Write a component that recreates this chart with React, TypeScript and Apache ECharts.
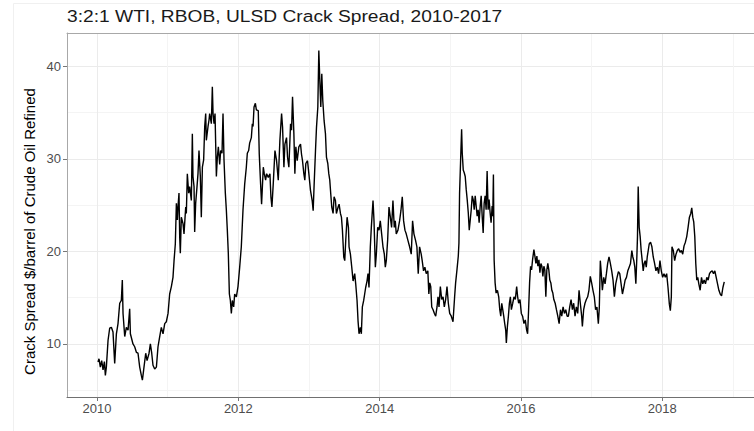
import React, { useEffect, useRef } from "react";
import * as echarts from "echarts";

const chartTitle = "3:2:1 WTI, RBOB, ULSD Crack Spread, 2010-2017";
const yAxisTitle = "Crack Spread $/barrel of Crude Oil Refined";
const xTickYears = [2010, 2012, 2014, 2016, 2018];
const yTickValues = [10, 20, 30, 40];

// decimal year of each observation
const years2010to2012 = [
  2010.014, 2010.028, 2010.047, 2010.066, 2010.085, 2010.104, 2010.118, 2010.132, 2010.156, 2010.179,
  2010.203, 2010.226, 2010.25, 2010.274, 2010.297, 2010.321, 2010.344, 2010.358, 2010.368, 2010.392,
  2010.415, 2010.439, 2010.462, 2010.472, 2010.509, 2010.533, 2010.557, 2010.58, 2010.604, 2010.627,
  2010.642, 2010.66, 2010.689, 2010.708, 2010.736, 2010.755, 2010.774, 2010.792, 2010.816, 2010.84,
  2010.863, 2010.887, 2010.91, 2010.934, 2010.958, 2010.981, 2011.005, 2011.028, 2011.052, 2011.075,
  2011.09, 2011.108, 2011.123, 2011.137, 2011.146, 2011.16, 2011.17, 2011.179, 2011.193, 2011.217,
  2011.231, 2011.255, 2011.264, 2011.278, 2011.297, 2011.311, 2011.335, 2011.349, 2011.358, 2011.373,
  2011.382, 2011.396, 2011.415, 2011.429, 2011.443, 2011.462, 2011.476, 2011.491, 2011.509, 2011.524,
  2011.538, 2011.547, 2011.571, 2011.585, 2011.594, 2011.618, 2011.632, 2011.642, 2011.656, 2011.67,
  2011.689, 2011.703, 2011.717, 2011.736, 2011.75, 2011.769, 2011.783, 2011.797, 2011.816, 2011.83,
  2011.844, 2011.858, 2011.873, 2011.887, 2011.901, 2011.915, 2011.934, 2011.948, 2011.972, 2011.995,
  2012.019, 2012.042, 2012.066, 2012.09, 2012.113, 2012.127, 2012.146, 2012.16, 2012.184, 2012.198,
  2012.208, 2012.222, 2012.241, 2012.255,
];
const spread2010to2012 = [
  8.05, 8.4, 7.5, 8.2, 7.2, 8.1, 6.6, 7.5, 10.4, 11.7,
  11.8, 11.3, 7.9, 11.1, 12.2, 14.4, 14.7, 16.9, 13.3, 10.8,
  11.8, 11.5, 13.8, 11.1, 10.0, 9.7, 9.1, 9.0, 7.5, 6.6,
  6.1, 7.2, 9.0, 8.2, 9.0, 10.0, 9.0, 7.7, 7.3, 7.5,
  9.7, 10.8, 11.8, 11.1, 12.2, 12.4, 13.3, 15.4, 16.2, 17.2,
  19.0, 20.8, 25.2, 23.4, 24.8, 26.3, 21.6, 19.8, 23.7, 23.0,
  21.9, 24.8, 24.1, 28.4, 26.3, 27.0, 25.5, 32.7, 28.1, 27.0,
  22.1, 25.2, 27.0, 28.4, 30.9, 28.1, 23.7, 29.1, 29.9, 33.5,
  34.9, 32.0, 33.5, 34.2, 34.9, 33.8, 37.8, 34.9, 33.8, 34.9,
  28.1, 30.2, 31.3, 29.4, 30.9, 30.6, 34.9, 29.9, 26.3, 24.5,
  22.3, 19.8, 15.4, 14.7, 13.3, 14.7, 14.0, 15.4, 15.1, 16.2,
  18.3, 20.5, 24.5, 27.3, 29.1, 30.6, 30.9, 31.7, 32.3, 33.8,
  33.5, 35.6, 36.0, 35.3,
];

const years2012to2014 = [
  2012.282, 2012.296, 2012.315, 2012.329, 2012.353, 2012.367, 2012.386, 2012.4, 2012.424, 2012.447,
  2012.461, 2012.475, 2012.494, 2012.518, 2012.541, 2012.565, 2012.588, 2012.612, 2012.626, 2012.645,
  2012.659, 2012.682, 2012.696, 2012.715, 2012.739, 2012.753, 2012.767, 2012.786, 2012.8, 2012.814,
  2012.833, 2012.856, 2012.88, 2012.894, 2012.908, 2012.927, 2012.941, 2012.955, 2012.979, 2012.998,
  2013.021, 2013.045, 2013.059, 2013.073, 2013.092, 2013.106, 2013.125, 2013.139, 2013.153, 2013.167,
  2013.181, 2013.195, 2013.214, 2013.233, 2013.247, 2013.266, 2013.28, 2013.294, 2013.308, 2013.322,
  2013.341, 2013.355, 2013.374, 2013.388, 2013.412, 2013.426, 2013.445, 2013.459, 2013.473, 2013.492,
  2013.506, 2013.52, 2013.539, 2013.558, 2013.567, 2013.586, 2013.605, 2013.624, 2013.647, 2013.661,
  2013.68, 2013.694, 2013.708, 2013.727, 2013.741, 2013.755, 2013.774, 2013.788, 2013.802, 2013.821,
  2013.835, 2013.849, 2013.868, 2013.882, 2013.906, 2013.92, 2013.939, 2013.953, 2013.972, 2013.991,
  2014.009, 2014.028, 2014.047, 2014.066, 2014.08, 2014.094, 2014.113, 2014.132, 2014.151, 2014.169,
  2014.188, 2014.207, 2014.221, 2014.235, 2014.259, 2014.282, 2014.301, 2014.32, 2014.339, 2014.358,
  2014.376, 2014.4, 2014.424, 2014.447, 2014.466, 2014.485, 2014.508, 2014.527, 2014.546, 2014.565,
  2014.588, 2014.602, 2014.621, 2014.64, 2014.659, 2014.682, 2014.696,
];
const spread2012to2014 = [
  35.2, 30.5, 27.3, 25.1, 29.1, 28.4, 27.7, 28.4, 28.0, 28.4,
  25.9, 24.8, 27.3, 30.9, 29.8, 27.7, 32.0, 34.9, 33.4, 29.1,
  31.6, 32.3, 30.2, 29.1, 33.8, 33.1, 36.7, 32.7, 28.4, 31.3,
  29.8, 31.3, 31.6, 30.5, 29.8, 28.4, 27.7, 29.5, 29.8, 28.4,
  26.6, 25.5, 24.4, 27.3, 30.9, 33.4, 35.6, 41.7, 38.5, 35.6,
  39.2, 36.3, 34.1, 32.7, 30.2, 29.5, 28.4, 27.7, 26.2, 24.8,
  24.1, 25.9, 25.5, 24.1, 24.8, 25.1, 24.1, 23.7, 22.3, 19.4,
  19.0, 21.2, 23.7, 22.6, 20.5, 19.7, 18.3, 16.8, 17.6, 16.5,
  14.7, 12.5, 11.1, 11.8, 11.1, 14.0, 14.7, 15.4, 16.1, 16.8,
  17.6, 16.1, 20.5, 22.6, 25.5, 23.3, 18.3, 19.7, 22.6, 22.3,
  23.3, 21.9, 20.5, 19.7, 18.3, 19.0, 21.2, 24.8, 23.7, 22.6,
  25.5, 22.6, 23.3, 21.9, 22.3, 23.3, 24.4, 25.9, 23.3, 22.3,
  21.9, 21.2, 20.5, 19.7, 23.3, 21.9, 21.2, 20.5, 17.6, 20.5,
  19.7, 19.0, 17.9, 18.3, 17.6, 17.9, 15.4,
];

const years2014to2017 = [
  2014.709, 2014.723, 2014.737, 2014.756, 2014.775, 2014.793, 2014.812, 2014.826, 2014.84, 2014.859,
  2014.878, 2014.897, 2014.915, 2014.934, 2014.953, 2014.972, 2014.991, 2015.014, 2015.038, 2015.061,
  2015.075, 2015.094, 2015.113, 2015.122, 2015.131, 2015.146, 2015.16, 2015.169, 2015.183, 2015.197,
  2015.211, 2015.225, 2015.239, 2015.254, 2015.268, 2015.282, 2015.296, 2015.31, 2015.324, 2015.338,
  2015.352, 2015.366, 2015.38, 2015.394, 2015.408, 2015.423, 2015.437, 2015.451, 2015.465, 2015.479,
  2015.493, 2015.507, 2015.521, 2015.535, 2015.549, 2015.563, 2015.577, 2015.592, 2015.601, 2015.61,
  2015.62, 2015.634, 2015.648, 2015.667, 2015.685, 2015.7, 2015.714, 2015.728, 2015.742, 2015.756,
  2015.77, 2015.784, 2015.793, 2015.808, 2015.822, 2015.836, 2015.85, 2015.864, 2015.883, 2015.901,
  2015.92, 2015.939, 2015.953, 2015.967, 2015.986, 2016.005, 2016.023, 2016.042, 2016.061, 2016.08,
  2016.094, 2016.108, 2016.122, 2016.136, 2016.15, 2016.164, 2016.183, 2016.197, 2016.211, 2016.225,
  2016.239, 2016.254, 2016.268, 2016.282, 2016.296, 2016.31, 2016.324, 2016.338, 2016.352, 2016.366,
  2016.38, 2016.394, 2016.408, 2016.423, 2016.437, 2016.451, 2016.465, 2016.484, 2016.502, 2016.521,
  2016.54, 2016.559, 2016.577, 2016.596, 2016.615, 2016.634, 2016.653, 2016.671, 2016.69, 2016.709,
  2016.728, 2016.746, 2016.765, 2016.784, 2016.803, 2016.822, 2016.84, 2016.859, 2016.869, 2016.887,
  2016.906, 2016.925, 2016.944, 2016.962, 2016.981, 2017.0, 2017.019, 2017.038, 2017.056, 2017.075,
];
const spread2014to2017 = [
  16.6, 16.2, 14.0, 13.7, 13.3, 13.0, 14.0, 15.1, 14.0, 16.2,
  14.8, 15.1, 14.0, 14.8, 16.2, 14.4, 13.3, 13.0, 12.4, 15.1,
  16.6, 18.0, 19.5, 20.9, 26.3, 29.9, 33.2, 30.6, 28.8, 28.5,
  28.1, 26.7, 25.6, 24.2, 22.3, 23.4, 24.5, 26.0, 25.6, 24.5,
  26.0, 24.9, 23.8, 24.5, 23.1, 24.9, 26.0, 23.8, 22.0, 25.2,
  26.0, 24.5, 28.7, 24.5, 25.6, 24.2, 23.1, 24.9, 23.8, 28.3,
  19.1, 16.6, 15.5, 15.8, 15.1, 13.7, 13.0, 14.4, 13.7, 13.0,
  12.2, 11.5, 10.1, 11.9, 13.0, 14.4, 15.1, 13.7, 14.4, 15.1,
  14.8, 16.2, 15.1, 14.4, 14.8, 13.3, 13.0, 12.2, 12.6, 11.5,
  11.1, 13.7, 16.6, 18.4, 18.0, 19.1, 20.2, 19.5, 18.7, 19.5,
  18.4, 19.1, 17.7, 18.7, 18.4, 17.3, 18.4, 18.0, 15.1, 18.0,
  18.7, 18.0, 16.9, 16.6, 15.8, 15.5, 14.8, 14.4, 13.7, 13.0,
  12.2, 13.7, 13.0, 14.0, 13.3, 13.7, 13.0, 13.0, 14.0, 14.8,
  13.7, 14.4, 13.0, 14.0, 13.3, 15.8, 14.4, 13.0, 11.9, 13.7,
  14.4, 14.8, 15.1, 15.8, 17.3, 16.6, 15.8, 15.1, 13.7, 14.0,
];

const years2017to2018 = [
  2017.095, 2017.109, 2017.123, 2017.137, 2017.152, 2017.171, 2017.19, 2017.209, 2017.227, 2017.246,
  2017.265, 2017.284, 2017.303, 2017.322, 2017.341, 2017.36, 2017.379, 2017.398, 2017.417, 2017.436,
  2017.455, 2017.474, 2017.493, 2017.512, 2017.531, 2017.55, 2017.569, 2017.583, 2017.597, 2017.611,
  2017.626, 2017.64, 2017.649, 2017.659, 2017.673, 2017.687, 2017.701, 2017.716, 2017.73, 2017.744,
  2017.758, 2017.773, 2017.787, 2017.801, 2017.815, 2017.834, 2017.853, 2017.872, 2017.891, 2017.91,
  2017.929, 2017.948, 2017.967, 2017.986, 2018.005, 2018.024, 2018.043, 2018.062, 2018.081, 2018.1,
  2018.114, 2018.128, 2018.137, 2018.156, 2018.175, 2018.194, 2018.213, 2018.232, 2018.251, 2018.27,
  2018.289, 2018.308, 2018.327, 2018.346, 2018.365, 2018.384, 2018.403, 2018.417, 2018.431, 2018.445,
  2018.46, 2018.474, 2018.488, 2018.502, 2018.517, 2018.536, 2018.555, 2018.573, 2018.592, 2018.611,
  2018.63, 2018.649, 2018.668, 2018.687, 2018.706, 2018.725, 2018.744, 2018.763, 2018.782, 2018.801,
  2018.82, 2018.839, 2018.858, 2018.877,
];
const spread2017to2018 = [
  12.2, 14.0, 19.0, 17.6, 15.8, 17.2, 16.5, 17.6, 18.7, 19.4,
  18.7, 17.9, 16.9, 15.1, 16.5, 17.2, 17.8, 17.6, 16.5, 15.4,
  16.1, 16.9, 17.2, 17.9, 18.3, 18.7, 20.1, 19.4, 19.0, 18.3,
  16.5, 19.4, 21.6, 27.0, 22.6, 21.6, 20.1, 19.0, 17.9, 18.7,
  19.0, 18.3, 19.4, 20.1, 20.8, 21.0, 20.5, 19.4, 18.7, 17.9,
  18.3, 17.6, 19.0, 17.9, 17.2, 17.6, 17.2, 17.6, 16.1, 14.3,
  13.6, 15.1, 20.5, 20.1, 19.0, 19.7, 20.1, 20.3, 19.9, 20.1,
  19.7, 20.6, 21.0, 21.6, 22.6, 23.7, 24.1, 24.7, 23.7, 23.2,
  21.6, 18.7, 16.9, 17.2, 16.5, 15.8, 17.2, 16.5, 16.9, 16.5,
  17.2, 16.9, 17.6, 17.8, 17.9, 17.6, 17.9, 17.2, 16.5, 15.8,
  15.4, 15.2, 16.1, 16.7,
];

const allYears = [...years2010to2012, ...years2012to2014, ...years2014to2017, ...years2017to2018];
const allSpread = [...spread2010to2012, ...spread2012to2014, ...spread2014to2017, ...spread2017to2018];

const X_MIN = 2009.575;
const X_MAX = 2019.298;
const Y_MIN = 4.27;
const Y_MAX = 43.6;

const FONT = "'Liberation Sans', Arial, sans-serif";

export default function App() {
  const ref = useRef<HTMLDivElement>(null);
  useEffect(() => {
    if (!ref.current) return;
    const chart = echarts.init(ref.current, null, { renderer: "svg" });
    const seriesData = allYears.map((y, i) => [y, allSpread[i]]);
    chart.setOption({
      animation: false,
      backgroundColor: "#ffffff",
      textStyle: { fontFamily: FONT },
      grid: { left: 67, right: 0, top: 33, bottom: 34, containLabel: false },
      xAxis: [
        {
          type: "value",
          min: X_MIN,
          max: X_MAX,
          splitNumber: 5,
          axisLine: { show: true, onZero: false, lineStyle: { color: "#707070", width: 1 } },
          axisTick: {
            show: true,
            length: 4,
            customValues: xTickYears,
            lineStyle: { color: "#777777", width: 1 },
          },
          axisLabel: {
            color: "#4d4d4d",
            fontSize: 13,
            fontFamily: FONT,
            margin: 5,
            customValues: xTickYears,
            formatter: (v: number) => String(Math.round(v)),
          },
          splitLine: { show: true, lineStyle: { color: "#ebebeb", width: 1 } },
          minorTick: { show: false, splitNumber: 2 },
          minorSplitLine: { show: true, lineStyle: { color: "#f4f4f4", width: 1 } },
        },
        {
          type: "value",
          position: "top",
          min: X_MIN,
          max: X_MAX,
          axisLine: { show: true, onZero: false, lineStyle: { color: "#a8a8a8", width: 1 } },
          axisTick: { show: false },
          axisLabel: { show: false },
          splitLine: { show: false },
        },
      ],
      yAxis: {
        type: "value",
        min: Y_MIN,
        max: Y_MAX,
        splitNumber: 5,
        axisLine: { show: true, onZero: false, lineStyle: { color: "#a8a8a8", width: 1 } },
        axisTick: {
          show: true,
          length: 4,
          customValues: yTickValues,
          lineStyle: { color: "#777777", width: 1 },
        },
        axisLabel: {
          color: "#4d4d4d",
          fontSize: 13,
          fontFamily: FONT,
          margin: 6,
          customValues: yTickValues,
          formatter: (v: number) => String(Math.round(v)),
        },
        splitLine: { show: true, lineStyle: { color: "#ebebeb", width: 1 } },
        minorTick: { show: false, splitNumber: 2 },
        minorSplitLine: { show: true, lineStyle: { color: "#f4f4f4", width: 1 } },
      },
      graphic: [
        {
          type: "rect",
          z: -1,
          shape: { x: 13.5, y: 3.5, width: 800, height: 500 },
          style: { fill: "none", stroke: "#f0f0f0", lineWidth: 1 },
          silent: true,
        },
        {
          type: "text",
          x: 67,
          y: 16,
          scaleX: 1.13,
          style: {
            text: chartTitle,
            fontSize: 17,
            fontFamily: FONT,
            fill: "#1a1a1a",
            align: "left",
            verticalAlign: "middle",
          },
        },
        {
          type: "text",
          x: 29.5,
          y: 231.5,
          rotation: Math.PI / 2,
          style: {
            text: yAxisTitle,
            fontSize: 15,
            fontFamily: FONT,
            fill: "#000000",
            align: "center",
            verticalAlign: "middle",
          },
        },
      ],
      series: [
        {
          type: "line",
          xAxisIndex: 0,
          yAxisIndex: 0,
          data: seriesData,
          showSymbol: false,
          symbol: "none",
          clip: true,
          lineStyle: { color: "#000000", width: 1.4 },
        },
      ],
    });
    return () => chart.dispose();
  }, []);
  return (
    <div
      ref={ref}
      style={{ position: "absolute", left: 0, top: 0, width: 754, height: 431, background: "#ffffff" }}
    />
  );
}
